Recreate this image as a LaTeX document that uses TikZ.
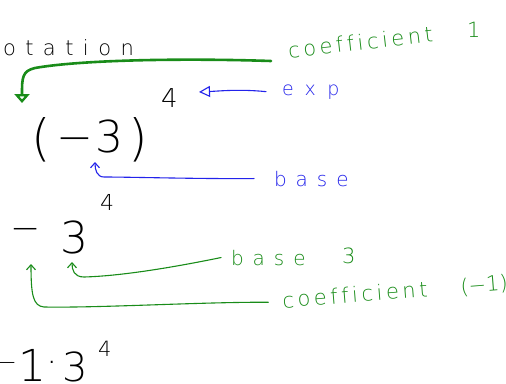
\documentclass[tikz,border=0pt]{standalone}
\usepackage{fontspec}
\usetikzlibrary{arrows.meta}
\newfontfamily\hand[Ligatures=NoCommon]{DejaVu Sans ExtraLight}
\definecolor{penblue}{RGB}{35,35,235}
\definecolor{pengreen}{RGB}{25,140,25}
\newcommand{\penfont}[2]{\fontsize{#1}{#1}\selectfont\addfontfeatures{LetterSpace=#2}}
\tikzset{
  pen/.style={inner sep=0pt, outer sep=0pt, anchor=base west},
  blk/.style={pen, text=black},
  bl/.style={pen, text=penblue},
  gr/.style={pen, text=pengreen},
  thinblue/.style={draw=penblue, line width=1.1pt, line cap=round},
  thingreen/.style={draw=pengreen, line width=1.1pt, line cap=round},
  hook/.style={-{Straight Barb[length=5pt,width=9pt]}},
}
\begin{document}
\begin{tikzpicture}[x=1pt,y=-1pt]
\useasboundingbox[fill=white] (0,0) rectangle (506,383);

% top line
\node[blk, font=\hand\penfont{21}{45}] (otation) at (3,55) {otation};
\node[gr, font=\hand\penfont{21}{17}, rotate=6.5] (coefA) at (289,58) {coefficient};
\node[gr, font=\hand\penfont{21}{0}] (one) at (467,37) {1};

% exponent and its label
\node[blk, font=\hand\penfont{26}{0}] (expA) at (161,107) {4};
\node[bl, font=\hand\penfont{19}{60}] (exp) at (282,95) {exp};

% (-3)
\node[blk, font=\hand\penfont{50}{0}] (lpar) at (31,155) {(};
\node[blk, font=\hand\penfont{44}{0}] (minA) at (56,152) {−};
\node[blk, font=\hand\penfont{44}{0}] (threeA) at (95,152) {3};
\node[blk, font=\hand\penfont{50}{0}] (rpar) at (128,155) {)};
\node[bl, font=\hand\penfont{20}{45}] (baseA) at (274,186) {base};

% - 3 with exponent 4
\node[blk, font=\hand\penfont{22}{0}] (expB) at (100,210) {4};
\node[blk, font=\hand\penfont{36}{0}, anchor=center] (minB) at (26,234) {−};
\node[blk, font=\hand\penfont{44}{0}] (threeB) at (60,253) {3};
\node[gr, font=\hand\penfont{20}{45}] (baseB) at (231,265) {base};
\node[gr, font=\hand\penfont{21}{0}] (threeC) at (342,263) {3};
\node[gr, font=\hand\penfont{21}{17}, rotate=4.5] (coefB) at (283,308) {coefficient};
\node[gr, font=\hand\penfont{21}{0}, rotate=4.5] (minusone) at (461,294) {(−1)};

% -1 . 3^4
\node[blk, font=\hand\penfont{24}{0}, anchor=center] (minC) at (7,366) {−};
\node[blk, font=\hand\penfont{44}{0}, anchor=base] (oneC) at (32,381) {1};
\node[blk, font=\hand\penfont{36}{0}, anchor=center] (dot) at (52,368) {·};
\node[blk, font=\hand\penfont{40}{0}] (threeD) at (62,381) {3};
\node[blk, font=\hand\penfont{21}{0}] (expC) at (98,356) {4};

% connector end points
\coordinate (tipTop) at (22,103);
\coordinate (tipExp) at (199,92);
\coordinate (tipBase) at (95,162);
\coordinate (tipBaseB) at (72,262);
\coordinate (tipCoefB) at (31,264);

% coefficient 1 -> front of the expression
\draw[draw=pengreen, line width=2.6pt, line cap=round,
      -{Triangle[open, length=9pt, width=15pt, line width=3pt]}]
  ([xshift=-18pt,yshift=-3pt]coefA.base west) .. controls (180,58) and (80,60) .. (35,68)
  .. controls (22,71) and (22,78) .. (tipTop);

% exp -> exponent
\draw[thinblue, -{Triangle[open, length=11pt, width=11pt]}]
  ([xshift=-16pt]exp.west) .. controls (240,89) and (220,91) .. (tipExp);

% base -> 3
\draw[thinblue, hook]
  ([xshift=-20pt]baseA.west) .. controls (200,179) and (130,177) .. (104,177)
  .. controls (97,177) and (95,170) .. (tipBase);

% base 3 -> 3
\draw[thingreen, hook]
  ([xshift=-10pt]baseB.west) .. controls (170,268) and (120,276) .. (84,277)
  .. controls (74,277) and (72,270) .. (tipBaseB);

% coefficient (-1) -> minus sign
\draw[thingreen, hook]
  ([xshift=-14pt,yshift=-2pt]coefB.west) .. controls (200,302) and (100,308) .. (44,307)
  .. controls (33,306) and (31,295) .. (tipCoefB);
\end{tikzpicture}
\end{document}
